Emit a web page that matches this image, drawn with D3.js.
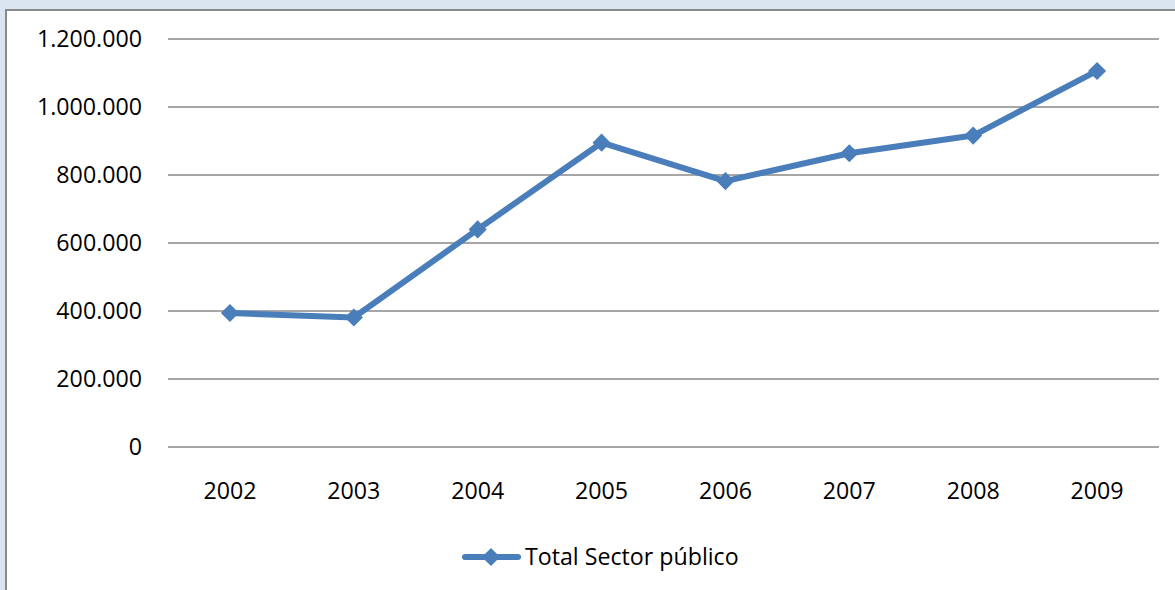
<!DOCTYPE html>
<html><head><meta charset="utf-8">
<script src="https://cdn.jsdelivr.net/npm/d3@7"></script>
<style>
html,body{margin:0;padding:0;background:#dbe5f1;}
svg{display:block;}
text{font-family:"Open Sans","Noto Sans",sans-serif;fill:#000;}
</style></head>
<body>
<svg id="c" width="1175" height="590"></svg>
<script>
const years = ["2002","2003","2004","2005","2006","2007","2008","2009"];
const totalSectorPublico = [394000, 381000, 640000, 895000, 782000, 864000, 916000, 1106000];
const yTicks = [0, 200000, 400000, 600000, 800000, 1000000, 1200000];
const seriesName = "Total Sector público";

const svg = d3.select("#c");
const W = 1175, H = 590;
const color = "#4a7ebb";

// chart frame
svg.append("rect").attr("x", 6).attr("y", 10).attr("width", W).attr("height", H)
  .attr("fill", "#fff").attr("stroke", "#8a8a8a").attr("stroke-width", 2);

const x = d3.scaleBand().domain(years).range([168, 1159]);
const y = d3.scaleLinear().domain([0, 1200000]).range([447, 39]);

const fmt = v => d3.format(",")(v).replace(/,/g, ".");

// gridlines
svg.append("g").selectAll("line").data(yTicks).join("line")
  .attr("x1", 168).attr("x2", 1159)
  .attr("y1", d => y(d)).attr("y2", d => y(d))
  .attr("stroke", "#888").attr("stroke-width", 1.6);

// y labels
svg.append("g").selectAll("text").data(yTicks).join("text")
  .attr("x", 142).attr("y", d => y(d)).attr("dy", "0.36em")
  .attr("text-anchor", "end").attr("font-size", 23.2)
  .text(fmt);

// x labels
svg.append("g").selectAll("text").data(years).join("text")
  .attr("x", d => x(d) + x.bandwidth() / 2).attr("y", 491).attr("dy", "0.36em")
  .attr("text-anchor", "middle").attr("font-size", 23.2)
  .text(d => d);

const data = years.map((yr, i) => ({yr, v: totalSectorPublico[i]}));
const cx = d => x(d.yr) + x.bandwidth() / 2;

svg.append("path").datum(data)
  .attr("d", d3.line().x(cx).y(d => y(d.v)))
  .attr("fill", "none").attr("stroke", color).attr("stroke-width", 6)
  .attr("stroke-linejoin", "round").attr("stroke-linecap", "round");

const diamond = d3.symbol().type(d3.symbolSquare).size(165);
svg.append("g").selectAll("path").data(data).join("path")
  .attr("d", diamond)
  .attr("transform", d => `translate(${cx(d)},${y(d.v)}) rotate(45)`)
  .attr("fill", color);

// legend
const lg = svg.append("g");
lg.append("line").attr("x1", 465).attr("x2", 518).attr("y1", 557).attr("y2", 557)
  .attr("stroke", color).attr("stroke-width", 6).attr("stroke-linecap", "round");
lg.append("path").attr("d", diamond).attr("transform", "translate(491,557) rotate(45)").attr("fill", color);
lg.append("text").attr("x", 525).attr("y", 557).attr("dy", "0.36em")
  .attr("font-size", 23.2).text(seriesName);
</script>
</body></html>
